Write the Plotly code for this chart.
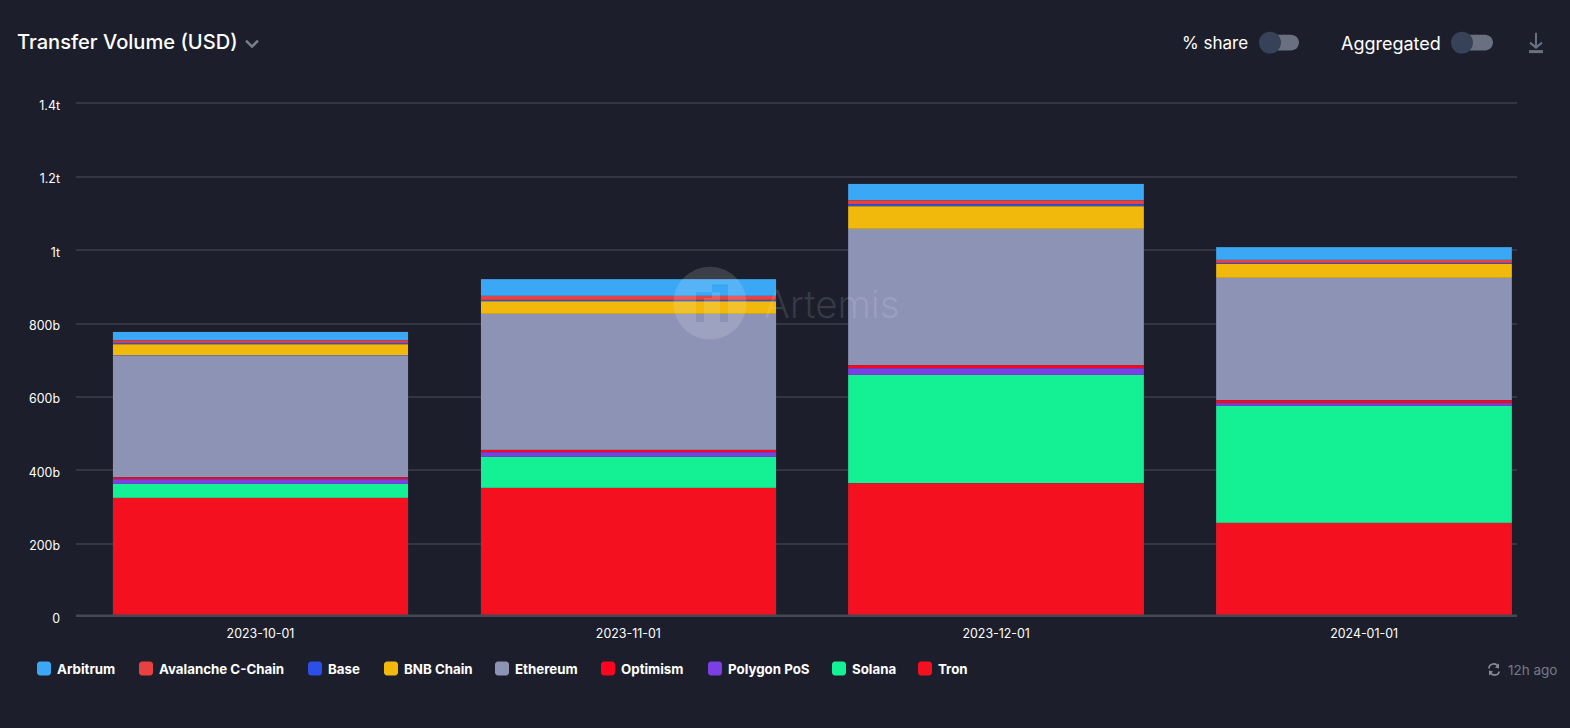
import plotly.graph_objects as go

months = ["2023-10-01", "2023-11-01", "2023-12-01", "2024-01-01"]

# values in billions USD
tron = [324.6, 352.7, 365, 256.6]
solana = [39, 84, 296, 319]
polygon = [12, 12, 17, 7.3]
optimism = [6, 7, 8, 8]
ethereum = [332, 371, 373, 334]
bnb = [30, 34, 61, 38]
base = [3.5, 4.6, 4.6, 3.5]
avalanche = [7.3, 10, 11, 7.3]
arbitrum = [23.4, 46, 45, 35]

y_ticks = [0, 200, 400, 600, 800, 1000, 1200, 1400]
y_labels = ["0", "200b", "400b", "600b", "800b", "1t", "1.2t", "1.4t"]

W, H = 1570, 728
L, R, T, B = 76, 53, 101.5, 110.5
BG = "#1c1f2b"
FONT = "Inter"


def px(x):
    return (x - L) / (W - L - R)


def py(y):
    return 1 - (y - T) / (H - T - B)


def pt(x, y):
    return f"{px(x):.5f},{py(y):.5f}"


def path(cmds):
    # cmds like [("M", x, y), ("L", x, y), ("Z",)] in page pixels
    out = ""
    for c in cmds:
        out += c[0] if len(c) == 1 else f"{c[0]}{pt(c[1], c[2])} "
    return out


def rect(x0, y0, x1, y1, color):
    return dict(type="rect", xref="paper", yref="paper", x0=px(x0), x1=px(x1), y0=py(y0), y1=py(y1),
                fillcolor=color, line_width=0)


def circle(cx, cy, r, color):
    return dict(type="circle", xref="paper", yref="paper", x0=px(cx - r), x1=px(cx + r), y0=py(cy - r), y1=py(cy + r),
                fillcolor=color, line_width=0)


def rounded(x0, x1, y0, y1, r, color):
    k = 0.55 * r
    s = f"M{pt(x0 + r, y0)} L{pt(x1 - r, y0)} "
    s += f"C{pt(x1 - r + k, y0)} {pt(x1, y0 + r - k)} {pt(x1, y0 + r)} "
    s += f"L{pt(x1, y1 - r)} C{pt(x1, y1 - r + k)} {pt(x1 - r + k, y1)} {pt(x1 - r, y1)} "
    s += f"L{pt(x0 + r, y1)} C{pt(x0 + r - k, y1)} {pt(x0, y1 - r + k)} {pt(x0, y1 - r)} "
    s += f"L{pt(x0, y0 + r)} C{pt(x0, y0 + r - k)} {pt(x0 + r - k, y0)} {pt(x0 + r, y0)} Z"
    return dict(type="path", xref="paper", yref="paper", fillcolor=color, line_width=0, path=s)


def label(x, y, text, size, color="#ffffff", weight=400):
    return dict(xref="paper", yref="paper", x=px(x), y=py(y), text=text, showarrow=False, xanchor="left",
                yanchor="middle", borderpad=0, font=dict(family=FONT, size=size, color=color, weight=weight))


# stack order bottom to top
series = [
    ("Tron", tron, "#f5101f"),
    ("Solana", solana, "#14f195"),
    ("Polygon PoS", polygon, "#7b3fe4"),
    ("Optimism", optimism, "#ff0420"),
    ("Ethereum", ethereum, "#8c93b5"),
    ("BNB Chain", bnb, "#f0b90b"),
    ("Base", base, "#2b50e8"),
    ("Avalanche C-Chain", avalanche, "#e84142"),
    ("Arbitrum", arbitrum, "#3ba8f5"),
]

fig = go.Figure()
for name, vals, color in series:
    fig.add_trace(go.Bar(x=months, y=vals, name=name,
                         marker=dict(color=color, line=dict(color="rgba(70,72,85,0.4)", width=0.5))))

legend_items = [
    ("Arbitrum", "#3ba8f5", 37),
    ("Avalanche C-Chain", "#e84142", 139),
    ("Base", "#2b50e8", 308),
    ("BNB Chain", "#f0b90b", 384),
    ("Ethereum", "#8c93b5", 495),
    ("Optimism", "#ff0420", 601),
    ("Polygon PoS", "#7b3fe4", 708),
    ("Solana", "#14f195", 832),
    ("Tron", "#f5101f", 918),
]

shapes = []
annotations = []

# baseline sits over the bottoms of the bars
shapes.append(rect(76, 615, 1517, 617.6, "#454754"))

for name, color, x in legend_items:
    shapes.append(rounded(x, x + 14, 662, 676, 3, color))
    annotations.append(label(x + 18.5, 670, name, 13.3, weight=700))

# header
annotations.append(label(16, 41.5, "Transfer Volume (USD)", 20.1, weight=500))
shapes.append(dict(type="path", xref="paper", yref="paper", line=dict(color="#7b7f8c", width=2.5),
                   path=path([("M", 246, 40), ("L", 252, 46), ("L", 258, 40)])))

annotations.append(label(1180.5, 42.5, "% share", 17))
annotations.append(label(1339.5, 42.5, "Aggregated", 18))
shapes.append(rounded(1264, 1299, 34, 50, 8, "#6b7080"))
shapes.append(circle(1270, 42, 11, "#374157"))
shapes.append(rounded(1456, 1493, 34, 50, 8, "#6b7080"))
shapes.append(circle(1462, 42, 11, "#374157"))

# download icon
shapes.append(dict(type="path", xref="paper", yref="paper", line=dict(color="#6b7080", width=2),
                   path=path([("M", 1536, 32), ("L", 1536, 47), ("M", 1530, 42), ("L", 1536, 47), ("L", 1542, 42)])))
shapes.append(rect(1529, 49.5, 1543, 52.5, "#6b7080"))

# refresh + timestamp
annotations.append(label(1507, 671, "12h ago", 13.5, color="#767a87"))
shapes.append(dict(type="path", xref="paper", yref="paper", line=dict(color="#8a8d98", width=1.6),
                   path=f"M{pt(1489, 669)} C{pt(1489, 664)} {pt(1496, 663)} {pt(1498, 667)} "
                        f"M{pt(1499, 672)} C{pt(1499, 676)} {pt(1492, 677)} {pt(1490, 673)}"))
shapes.append(dict(type="path", xref="paper", yref="paper", fillcolor="#8a8d98", line_width=0,
                   path=path([("M", 1499, 664), ("L", 1499, 669), ("L", 1495, 668), ("Z",)])))
shapes.append(dict(type="path", xref="paper", yref="paper", fillcolor="#8a8d98", line_width=0,
                   path=path([("M", 1489, 676), ("L", 1489, 671), ("L", 1493, 672), ("Z",)])))

# watermark: disc with the stepped logo cut out of it
cx, cy, r = 710, 303, 36.5
k = 0.5523 * r
disc = (f"M{pt(cx - r, cy)} C{pt(cx - r, cy - k)} {pt(cx - k, cy - r)} {pt(cx, cy - r)} "
        f"C{pt(cx + k, cy - r)} {pt(cx + r, cy - k)} {pt(cx + r, cy)} "
        f"C{pt(cx + r, cy + k)} {pt(cx + k, cy + r)} {pt(cx, cy + r)} "
        f"C{pt(cx - k, cy + r)} {pt(cx - r, cy + k)} {pt(cx - r, cy)} Z ")
logo = path([("M", 696, 292), ("L", 712, 292), ("L", 712, 284), ("L", 728, 284), ("L", 728, 322), ("L", 720, 322),
             ("L", 720, 292), ("L", 712, 292), ("L", 712, 298), ("L", 704, 298), ("L", 704, 322), ("L", 696, 322), ("Z",)])
shapes.append(dict(type="path", xref="paper", yref="paper", fillcolor="rgba(255,255,255,0.14)", line_width=0,
                   path=disc + logo))
annotations.append(label(763, 304, "Artemis", 38.3, color="rgba(255,255,255,0.12)", weight=300))

fig.update_layout(
    barmode="stack",
    bargap=0.197,
    width=W,
    height=H,
    margin=dict(l=L, r=R, t=T, b=B, pad=0),
    autosize=False,
    paper_bgcolor=BG,
    plot_bgcolor=BG,
    showlegend=False,
    font=dict(family=FONT, size=12, color="#ffffff"),
    shapes=shapes,
    annotations=annotations,
    xaxis=dict(type="category", categoryorder="array", categoryarray=months, range=[-0.5013, 3.4157],
               showgrid=False, zeroline=False, showline=False, ticks="",
               ticklabelstandoff=8, tickfont=dict(family=FONT, size=12.4, color="#ffffff"), automargin=False),
    yaxis=dict(range=[0, 1404], tickmode="array", tickvals=y_ticks, ticktext=y_labels, showgrid=True,
               gridcolor="#343643", gridwidth=1.5, zeroline=False, showline=False, ticks="", ticklabelstandoff=15,
               ticklabelshift=2, tickfont=dict(family=FONT, size=12.4, color="#ffffff"), automargin=False),
)

fig.write_html("out.html", post_script=f"document.body.style.margin='0';document.body.style.background='{BG}';",
               config=dict(displayModeBar=False))
